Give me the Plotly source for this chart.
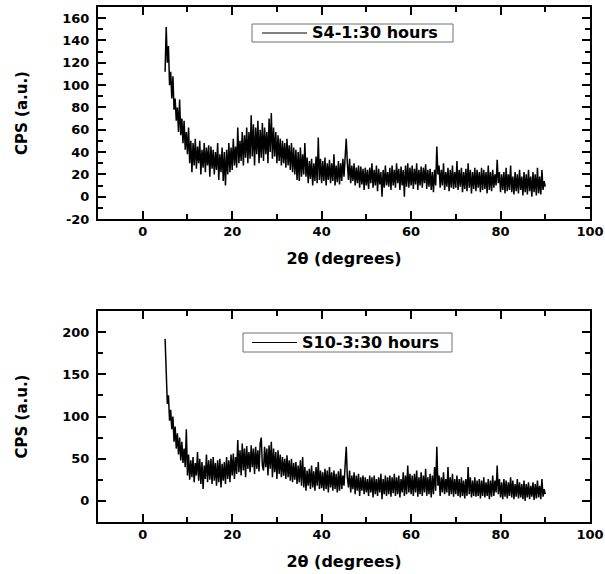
import plotly.graph_objects as go

# ---------------- data (0.25 deg steps from 5 to 90) ----------------
two_theta_start = 5.0
two_theta_step = 0.25

s4_1_cps = [
    112, 152, 120, 135, 100, 112, 88, 108, 78, 88, 68, 80, 58, 87, 55, 70, 48, 68, 42, 58,
    38, 62, 30, 50, 22, 48, 28, 52, 25, 45, 30, 50, 20, 42, 26, 48, 22, 44, 28, 46,
    18, 45, 25, 42, 20, 40, 24, 48, 15, 38, 22, 44, 14, 40, 10, 42, 20, 48, 22, 44,
    24, 52, 28, 45, 26, 62, 30, 50, 32, 58, 28, 55, 35, 62, 30, 58, 34, 73, 36, 65,
    28, 62, 38, 68, 30, 60, 35, 66, 32, 62, 38, 58, 30, 70, 40, 75, 34, 62, 36, 58,
    30, 55, 32, 52, 28, 50, 30, 48, 26, 52, 28, 46, 24, 48, 22, 44, 20, 42, 15, 40,
    14, 44, 18, 38, 20, 48, 18, 35, 12, 32, 16, 34, 10, 30, 14, 36, 12, 53, 15, 34,
    12, 32, 14, 35, 10, 30, 15, 33, 12, 30, 14, 38, 10, 28, 13, 32, 11, 30, 14, 34,
    18, 40, 52, 30, 15, 34, 12, 28, 14, 30, 10, 26, 12, 28, 8, 27, 11, 25, 6, 26,
    10, 24, 7, 26, 12, 30, 8, 24, 10, 28, 5, 25, 11, 22, 0, 24, 8, 28, 10, 22,
    9, 26, 6, 28, 10, 24, 8, 30, 12, 25, 6, 27, 10, 24, 0, 28, 9, 30, 8, 26,
    10, 28, 7, 25, 11, 30, 6, 24, 10, 27, 8, 26, 12, 29, 7, 24, 9, 25, 6, 22,
    4, 24, 10, 45, 20, 28, 8, 24, 10, 30, 6, 22, 9, 26, 5, 24, 8, 28, 7, 22,
    8, 32, 6, 24, 9, 26, 4, 22, 7, 25, 5, 30, 8, 24, 3, 22, 7, 26, 5, 24,
    8, 22, 4, 26, 6, 24, 7, 22, 3, 28, 6, 22, 5, 24, 8, 20, 10, 33, 12, 22,
    4, 20, 6, 22, 3, 26, 5, 20, 6, 28, 4, 18, 2, 22, 5, 20, 3, 24, 6, 18,
    1, 22, 4, 20, 2, 24, 5, 18, 0, 22, 4, 20, 1, 26, 3, 18, 2, 24, 6, 14,
    9,
]

s10_3_cps = [
    192, 140, 115, 125, 95, 108, 85, 100, 70, 88, 62, 80, 55, 75, 48, 70, 45, 62, 40, 85,
    30, 55, 25, 48, 28, 52, 22, 45, 30, 58, 24, 50, 20, 46, 14, 42, 26, 55, 22, 48,
    25, 50, 20, 52, 24, 45, 18, 48, 22, 50, 16, 44, 24, 46, 20, 52, 26, 48, 22, 55,
    30, 56, 26, 52, 32, 72, 34, 60, 30, 68, 36, 62, 28, 65, 38, 58, 34, 66, 40, 62,
    32, 64, 38, 60, 35, 68, 75, 42, 36, 64, 40, 62, 30, 66, 38, 70, 28, 62, 34, 58,
    26, 60, 32, 55, 28, 52, 30, 50, 26, 54, 28, 48, 24, 50, 22, 45, 25, 46, 20, 42,
    22, 48, 18, 52, 16, 40, 12, 36, 18, 38, 14, 42, 16, 35, 12, 40, 18, 46, 14, 36,
    15, 34, 12, 38, 14, 36, 10, 40, 16, 34, 12, 36, 14, 32, 10, 35, 12, 38, 14, 30,
    18, 42, 64, 28, 16, 36, 10, 30, 14, 34, 8, 30, 12, 32, 6, 28, 12, 30, 8, 28,
    10, 26, 6, 30, 10, 28, 4, 30, 8, 26, 6, 28, 10, 32, 2, 26, 8, 30, 6, 28,
    8, 30, 5, 28, 9, 32, 6, 28, 8, 30, 4, 26, 10, 34, 6, 30, 8, 42, 10, 32,
    8, 30, 6, 32, 10, 36, 5, 28, 8, 34, 6, 30, 10, 38, 6, 28, 8, 32, 4, 30,
    8, 40, 12, 64, 18, 30, 6, 28, 10, 34, 8, 26, 10, 40, 6, 28, 8, 32, 5, 26,
    8, 30, 6, 26, 4, 28, 6, 24, 3, 26, 6, 40, 8, 28, 4, 24, 6, 28, 5, 24,
    6, 26, 3, 24, 6, 28, 4, 22, 6, 26, 2, 24, 5, 30, 6, 24, 10, 42, 8, 26,
    4, 22, 2, 26, 5, 24, 3, 22, 6, 28, 4, 24, 2, 20, 5, 26, 3, 22, 4, 20,
    2, 24, 0, 20, 4, 22, 2, 18, 5, 22, 1, 20, 3, 24, 4, 18, 2, 26, 5, 14,
    8,
]

series_names = ["S4-1:30 hours", "S10-3:30 hours"]
x_title = "2θ (degrees)"
y_title = "CPS (a.u.)"
x_range = [-10, 100]
x_tick_vals = [0, 20, 40, 60, 80, 100]
top_y_range = [-20, 170]
top_y_tick_vals = [-20, 0, 20, 40, 60, 80, 100, 120, 140, 160]
bot_y_range = [-25, 225]
bot_y_tick_vals = [0, 50, 100, 150, 200]

two_theta = [two_theta_start + two_theta_step * i for i in range(len(s4_1_cps))]

# ---------------- figure ----------------
W, H = 605, 574
FONT = "DejaVu Sans"
LW = 1.5

xdom = [98 / W, 590 / W]
ydom_top = [1 - 219 / H, 1 - 7 / H]
ydom_bot = [1 - 522 / H, 1 - 311 / H]

fig = go.Figure()
fig.add_trace(go.Scatter(x=two_theta, y=s4_1_cps, mode="lines", name=series_names[0],
                         line=dict(color="black", width=LW), xaxis="x", yaxis="y"))
fig.add_trace(go.Scatter(x=two_theta, y=s10_3_cps, mode="lines", name=series_names[1],
                         line=dict(color="black", width=LW), xaxis="x2", yaxis="y2"))

tickfont = dict(family=FONT, size=13, color="black", weight="bold")


def xaxis(anchor):
    return dict(domain=xdom, anchor=anchor, range=x_range,
                tickmode="array", tickvals=x_tick_vals,
                ticks="inside", ticklen=8, tickwidth=2, tickcolor="black",
                minor=dict(tickmode="linear", tick0=0, dtick=10, ticks="inside", ticklen=5,
                           tickwidth=2, tickcolor="black"),
                showline=True, linewidth=2, linecolor="black", mirror="allticks",
                layer="above traces",
                showgrid=False, zeroline=False, tickfont=tickfont, ticklabelstandoff=-1,
                title=dict(text=x_title, standoff=15,
                           font=dict(family=FONT, size=16, color="black", weight="bold")),
                automargin=False)


def yaxis(anchor, dom, rng, vals):
    step = vals[1] - vals[0]
    return dict(domain=dom, anchor=anchor, range=rng,
                tickmode="array", tickvals=vals,
                ticktext=[str(v).replace("\u2212", "-") for v in vals],
                ticks="inside", ticklen=8, tickwidth=2, tickcolor="black",
                minor=dict(tickmode="linear", tick0=0, dtick=step / 2, ticks="inside",
                           ticklen=5, tickwidth=2, tickcolor="black"),
                showline=True, linewidth=2, linecolor="black", mirror="allticks",
                layer="above traces",
                showgrid=False, zeroline=False, tickfont=tickfont, ticklabelstandoff=4,
                title=dict(text=y_title, standoff=31,
                           font=dict(family=FONT, size=15, color="black", weight="bold")),
                automargin=False)


shapes, annotations = [], []
# legend boxes drawn like the reference (box, line sample, bold label)
legend_boxes = [
    dict(x0=252, x1=453, y0=24, y1=42, lx0=262, lx1=307, tx=310, name=series_names[0]),
    dict(x0=243, x1=452, y0=333, y1=352, lx0=252, lx1=297, tx=300, name=series_names[1]),
]
for b in legend_boxes:
    shapes.append(dict(type="rect", xref="paper", yref="paper",
                       x0=b["x0"] / W, x1=b["x1"] / W, y0=1 - b["y1"] / H, y1=1 - b["y0"] / H,
                       line=dict(color="#707070", width=1), fillcolor="white", layer="above"))
    ym = 1 - (b["y0"] + b["y1"]) / 2 / H
    shapes.append(dict(type="line", xref="paper", yref="paper",
                       x0=b["lx0"] / W, x1=b["lx1"] / W, y0=ym, y1=ym,
                       line=dict(color="black", width=1), layer="above"))
    annotations.append(dict(text=b["name"], xref="paper", yref="paper", x=b["tx"] / W, y=ym,
                            xanchor="left", yanchor="middle", showarrow=False,
                            font=dict(family=FONT, size=16, color="black", weight="bold")))

fig.update_layout(
    template="none",
    width=W, height=H, autosize=False,
    margin=dict(l=0, r=0, t=0, b=0),
    paper_bgcolor="white", plot_bgcolor="white",
    showlegend=False,
    xaxis=xaxis("y"),
    yaxis=yaxis("x", ydom_top, top_y_range, top_y_tick_vals),
    xaxis2=xaxis("y2"),
    yaxis2=yaxis("x2", ydom_bot, bot_y_range, bot_y_tick_vals),
    shapes=shapes,
    annotations=annotations,
)

fig.write_html("out.html")
